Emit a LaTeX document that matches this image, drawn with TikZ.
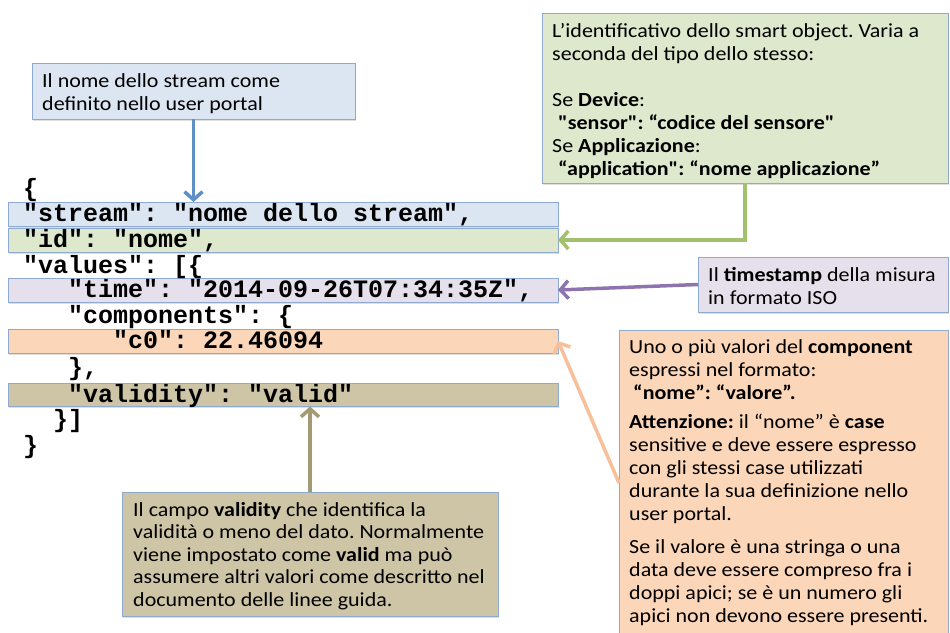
\documentclass[tikz,border=0pt]{standalone}
\usepackage{fontspec}
\setmainfont{Carlito}[Ligatures=TeXOff, FakeStretch=1.1]
\newfontfamily\codefont{Liberation Mono}
\usetikzlibrary{arrows.meta,shadows}
\frenchspacing
\definecolor{bordercol}{HTML}{8EAAD0}
\definecolor{fillblue}{HTML}{DCE6F2}
\definecolor{fillgreen}{HTML}{DDE8CC}
\definecolor{filllav}{HTML}{E6E0EC}
\definecolor{fillpeach}{HTML}{FCD6B8}
\definecolor{filltan}{HTML}{CDC5A6}
\definecolor{arrblue}{HTML}{5E90C6}
\definecolor{arrgreen}{HTML}{A3C16C}
\definecolor{arrpurple}{HTML}{8E74AE}
\definecolor{arrpeach}{HTML}{F8C09A}
\definecolor{arrtan}{HTML}{A39A72}
\newcommand{\tp}{\rule{0pt}{16pt}}
\begin{document}
\begin{tikzpicture}[x=1pt,y=-1pt,
  box/.style={draw=bordercol, line width=1pt, inner sep=0pt, outer sep=0pt, anchor=north west,
    drop shadow={shadow xshift=1pt, shadow yshift=-1.5pt, opacity=0.25}},
  row/.style={box, minimum width=550pt, minimum height=24pt},
  code/.style={anchor=base west, inner sep=0pt, font=\codefont\bfseries\fontsize{25}{26}\selectfont\frenchspacing},
  call/.style={anchor=north west, inner sep=0pt, align=left, font=\fontsize{20}{23}\selectfont\frenchspacing},
  conn/.style={line width=3.5pt, -{Straight Barb[length=8pt,width=18pt]}}
]
\useasboundingbox (0,0) rectangle (950,632);
\clip (0,0) rectangle (950,632);

% code rows
\node[row, fill=fillblue] (streamrow) at (8,202) {};
\node[row, fill=fillgreen] (idrow) at (8,228) {};
\node[row, fill=filllav] (timerow) at (8,278) {};
\node[row, fill=fillpeach] (c0row) at (8,329) {};
\node[row, fill=filltan, minimum height=23.5pt] (valrow) at (8,383) {};

% code text
\node[code] (l0) at (23,196) {\{};
\node[code] (l1) at (23,221.5) {"stream": "nome dello stream",};
\node[code] (l2) at (23,247.5) {"id": "nome",};
\node[code] (l3) at (23,273) {"values": [\{};
\node[code] (l4) at (68,297.5) {"time": "2014-09-26T07:34:35Z",};
\node[code] (l5) at (68,323.5) {"components": \{};
\node[code] (l6) at (113,348.5) {"c0": 22.46094};
\node[code] (l7) at (68,375.5) {\},};
\node[code] (l8) at (68,402) {"validity": "valid"};
\node[code] (l9) at (53,427.5) {\}]};
\node[code] (l10) at (23,453.5) {\}};

% callout boxes
\node[box, fill=fillblue, minimum width=323pt, minimum height=56pt] (b1) at (32,63) {};
\node[box, fill=fillgreen, minimum width=406pt, minimum height=170pt] (gbox) at (542,13) {};
\node[box, fill=filllav, minimum width=250pt, minimum height=55pt] (tbox) at (698,257) {};
\node[box, fill=fillpeach, minimum width=329pt, minimum height=306pt] (pbox) at (619,330) {};
\node[box, fill=filltan, minimum width=376pt, minimum height=124pt] (vbox) at (122,492) {};

% callout texts
\node[call] (t1) at (42,71) {\tp Il nome dello stream come\\definito nello user portal};
\node[call] (t2) at (552,21) {\tp L’identificativo dello smart object. Varia a\\
seconda del tipo dello stesso:\\[23pt]
Se \textbf{Device}:\\
\hspace*{6pt}\textbf{"sensor": “codice del sensore"}\\
Se \textbf{Applicazione}:\\
\hspace*{6pt}\textbf{“application": “nome applicazione”}};
\node[call] (t3) at (708,265) {\tp Il \textbf{timestamp} della misura\\in formato ISO};
\node[call] (t4) at (629,337) {\tp Uno o più valori del \textbf{component}\\
espressi nel formato:\\
\hspace*{4pt}\textbf{“nome”: “valore”.}\\[6pt]
\textbf{Attenzione:} il “nome” è \textbf{case}\\
sensitive e deve essere espresso\\
con gli stessi case utilizzati\\
durante la sua definizione nello\\
user portal.\\[10pt]
Se il valore è una stringa o una\\
data deve essere compreso fra i\\
doppi apici; se è un numero gli\\
apici non devono essere presenti.};
\node[call, font=\fontsize{20}{22.5}\selectfont\frenchspacing] (t5) at (133,500) {\tp Il campo \textbf{validity} che identifica la\\
validità o meno del dato. Normalmente\\
viene impostato come \textbf{valid} ma può\\
assumere altri valori come descritto nel\\
documento delle linee guida.};

% connectors
\draw[conn, arrblue] (b1.south) -- (b1.south |- streamrow.north);
\draw[conn, arrgreen] (gbox.south) |- (idrow.east);
\draw[conn, arrpurple] (tbox.west) -- (timerow.east);
\draw[conn, arrpeach] (pbox.west) -- (c0row.east);
\draw[conn, arrtan] (vbox.north) -- (vbox.north |- valrow.south);
\end{tikzpicture}
\end{document}
